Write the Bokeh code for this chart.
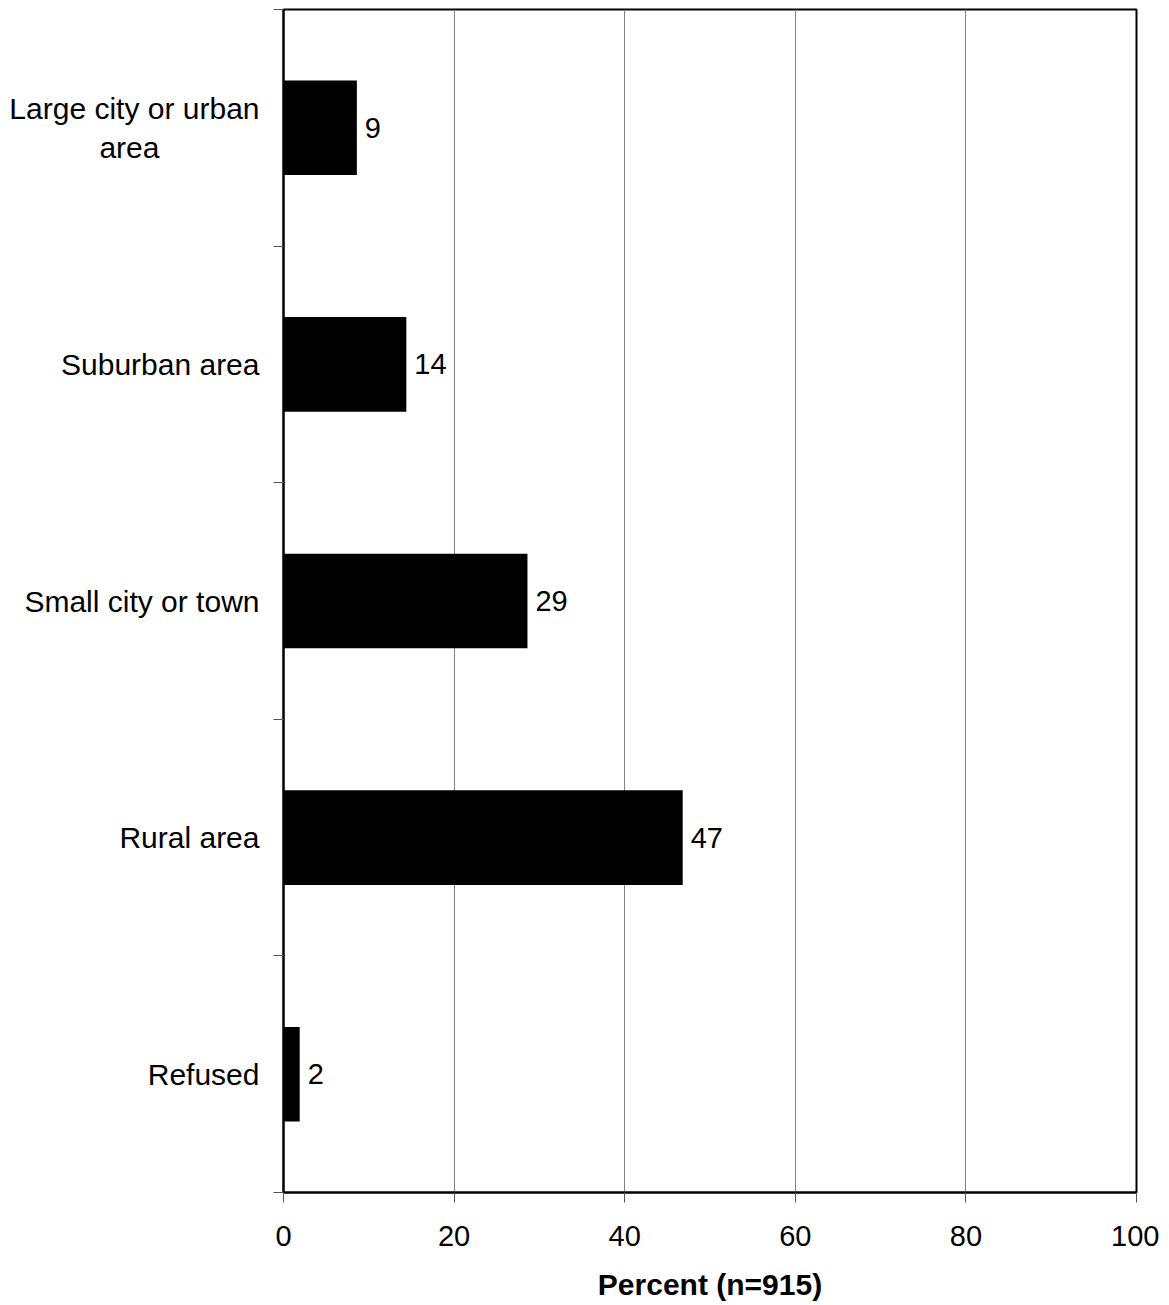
from bokeh.plotting import figure
from bokeh.models import FixedTicker, ColumnDataSource, Range1d
from bokeh.embed import file_html
from bokeh.resources import INLINE
from bokeh.core.properties import value

NB = "\u00a0"
categories = ["Large city or urban\n" + "area" + NB * 12, "Suburban area", "Small city or town", "Rural area", "Refused"]
values = [8.6, 14.4, 28.6, 46.8, 1.9]
x_ticks = [0, 20, 40, 60, 80, 100]

n = len(categories)
ypos = [n - i - 0.5 for i in range(n)]
labels = [str(int(round(v))) for v in values]

FONT = "Liberation Sans"

p = figure(frame_width=853, frame_height=1183, output_backend="svg", toolbar_location=None,
           x_range=Range1d(0, 100), y_range=Range1d(0, n),
           min_border_left=283, min_border_right=23, min_border_top=9, min_border_bottom=103)
p.background_fill_color = "white"
p.border_fill_color = "white"
p.outline_line_color = "black"
p.outline_line_width = 2

src = ColumnDataSource(dict(y=ypos, v=values, lab=labels))
p.hbar(y="y", left=0, right="v", height=0.4, source=src, fill_color="black", line_color="black", line_width=0)
p.text(x="v", y="y", text="lab", source=src, x_offset=8, text_baseline="middle", text_align="left",
       text_font=value(FONT), text_font_size="29px", text_color="black")

# x axis
p.xaxis.ticker = FixedTicker(ticks=x_ticks)
p.xaxis.axis_line_color = "black"
p.xaxis.axis_line_width = 2
p.xaxis.major_tick_out = 10
p.xaxis.major_tick_in = 0
p.xaxis.major_tick_line_color = "#555555"
p.xaxis.minor_tick_line_color = None
p.xaxis.major_label_text_font = FONT
p.xaxis.major_label_text_font_size = "29px"
p.xaxis.major_label_text_color = "black"
p.xaxis.major_label_standoff = 23
p.xaxis.axis_label = "Percent (n=915)"
p.xaxis.axis_label_text_font = FONT
p.xaxis.axis_label_text_font_size = "30px"
p.xaxis.axis_label_text_font_style = "bold"
p.xaxis.axis_label_text_color = "black"
p.xaxis.axis_label_standoff = 19

# y axis: labels at band centres, ticks at band boundaries
p.yaxis.ticker = FixedTicker(ticks=ypos, minor_ticks=list(range(n + 1)))
p.yaxis.major_label_overrides = {yv: c for yv, c in zip(ypos, categories)}
p.yaxis.major_tick_out = 0
p.yaxis.major_tick_in = 0
p.yaxis.minor_tick_out = 10
p.yaxis.minor_tick_in = 0
p.yaxis.minor_tick_line_color = "#555555"
p.yaxis.axis_line_color = "black"
p.yaxis.axis_line_width = 2
p.yaxis.major_label_text_font = FONT
p.yaxis.major_label_text_font_size = "30px"
p.yaxis.major_label_text_color = "black"
p.yaxis.major_label_standoff = 14

p.xgrid.ticker = FixedTicker(ticks=x_ticks)
p.xgrid.grid_line_color = "#808080"
p.xgrid.grid_line_width = 1
p.ygrid.grid_line_color = None

open("out.html", "w").write(file_html(p, INLINE))
